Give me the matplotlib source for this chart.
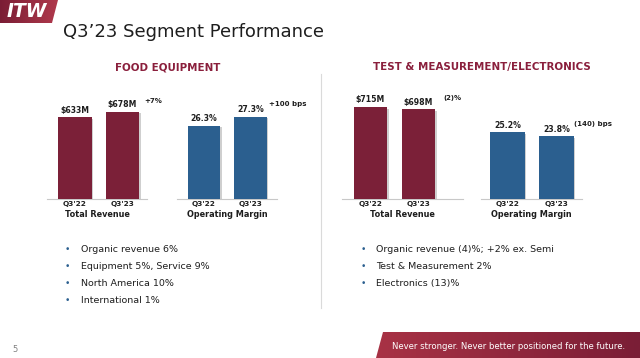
import numpy as np
import matplotlib
matplotlib.use("Agg")
import matplotlib.pyplot as plt
import matplotlib.patheffects as pe
from matplotlib.patches import Polygon

plt.rcParams['font.family'] = ['DejaVu Sans']

# ---------------------------------------------------------------------------
# DATA
# ---------------------------------------------------------------------------
quarters = ["Q3'22", "Q3'23"]
food_revenue = [633, 678]        # $M
food_margin = [26.3, 27.3]       # %
tm_revenue = [715, 698]          # $M
tm_margin = [25.2, 23.8]         # %
changes = ["+7%", "+100 bps", "(2)%", "(140) bps"]

food_bullets = ["Organic revenue 6%", "Equipment 5%, Service 9%",
                "North America 10%", "International 1%"]
tm_bullets = ["Organic revenue (4)%; +2% ex. Semi", "Test & Measurement 2%",
              "Electronics (13)%"]

MAROON = "#7B2038"
BLUE = "#2B5F8F"
TEXT = "#1e1e1e"

W, H = 640, 358
fig = plt.figure(figsize=(W / 100, H / 100), dpi=100)


def fx(x):
    return x / W


def fy(y):
    return 1 - y / H


# background layer in pixel coordinates (origin top-left)
bg = fig.add_axes([0, 0, 1, 1])
bg.axis("off")

# logo block, top-left
logo = Polygon([(0, 0), (58, 0), (52, 23), (0, 23)], closed=True,
               facecolor="none", edgecolor="none")
bg.add_patch(logo)
grad = np.linspace(0, 1, 256).reshape(1, -1)
im = bg.imshow(grad, extent=(0, 58, 23, 0), aspect="auto",
               cmap=matplotlib.colors.LinearSegmentedColormap.from_list(
                   "logo", ["#7a1d35", "#b0394c"]))
im.set_clip_path(logo)
fig.text(fx(7), fy(11.5), "ITW", color="white", fontsize=13.5,
         fontweight="bold", fontstyle="italic", va="center", ha="left")

# footer band
band = Polygon([(383, 332), (640, 332), (640, 358), (376, 358)], closed=True,
               facecolor="none", edgecolor="none")
bg.add_patch(band)
im2 = bg.imshow(grad, extent=(376, 640, 358, 332), aspect="auto",
                cmap=matplotlib.colors.LinearSegmentedColormap.from_list(
                    "band", ["#a83245", "#7a1e36"]))
im2.set_clip_path(band)
fig.text(fx(392), fy(346.5), "Never stronger. Never better positioned for the future.",
         color="white", fontsize=6.1, va="center", ha="left")
fig.text(fx(12), fy(350), "5", color="#808080", fontsize=6, va="center")

# divider
bg.plot([321, 321], [74, 308], color="#dadada", lw=0.8)
bg.set_xlim(0, W)
bg.set_ylim(H, 0)

# title and section headers
fig.text(fx(63), fy(37.3), "Q3\u201923 Segment Performance", color=TEXT,
         fontsize=13, va="baseline", ha="left")
fig.text(fx(168), fy(67), "FOOD EQUIPMENT", color="#8a1f3c", fontsize=7.4,
         fontweight="bold", ha="center", va="center")
fig.text(fx(482), fy(67), "TEST & MEASUREMENT/ELECTRONICS", color="#8a1f3c",
         fontsize=7.4, fontweight="bold", ha="center", va="center")

# ---------------------------------------------------------------------------
# BAR PANELS
# ---------------------------------------------------------------------------
panels = [
    # values, label format, colour, group label, px left/right, xlim, ylim
    (food_revenue, "${:.0f}M", MAROON, "Total Revenue", (47, 147), (-0.59, 1.52), (0, 937.5)),
    (food_margin, "{:.1f}%", BLUE, "Operating Margin", (177, 277), (-0.58, 1.57), (18.2, 31.53)),
    (tm_revenue, "${:.0f}M", MAROON, "Total Revenue", (342, 463), (-0.59, 1.93), (0, 937.5)),
    (tm_margin, "{:.1f}%", BLUE, "Operating Margin", (481, 582), (-0.54, 1.52), (0, 45.8)),
]
change_pos = [(144, 101), (269, 104), (443, 98), (574, 124)]

base_px, height_px = 198.5, 120
x = np.arange(len(quarters))
for (vals, fmt, col, group, (l, r), xlim, ylim), chg, (cx, cy) in zip(panels, changes, change_pos):
    ax = fig.add_axes([fx(l), fy(base_px), (r - l) / W, height_px / H])
    ax.patch.set_alpha(0)
    bars = ax.bar(x, vals, width=0.7, color=col, zorder=3)
    for b in bars:
        b.set_path_effects([pe.SimplePatchShadow(offset=(1.2, -1.2), shadow_rgbFace="#777777", alpha=0.35),
                            pe.Normal()])
    for xi, v in zip(x, vals):
        ax.annotate(fmt.format(v), (xi, v), xytext=(0, 1.8), textcoords="offset points",
                    ha="center", va="bottom", fontsize=5.6, fontweight="bold", color=TEXT)
    ax.set_xlim(*xlim)
    ax.set_ylim(*ylim)
    ax.set_xticks(x, quarters, fontsize=5.3, fontweight="bold", color=TEXT)
    ax.tick_params(axis="x", length=0, pad=1.8)
    ax.set_yticks([])
    for s in ("top", "right", "left"):
        ax.spines[s].set_visible(False)
    ax.spines["bottom"].set_color("#c8c8c8")
    ax.spines["bottom"].set_linewidth(0.8)
    ax.set_xlabel(group, fontsize=5.9, fontweight="bold", color=TEXT, labelpad=2.0)
    fig.text(fx(cx), fy(cy), chg, fontsize=5.0, fontweight="bold", color=TEXT,
             ha="left", va="center")

# ---------------------------------------------------------------------------
# BULLETS
# ---------------------------------------------------------------------------
for items, dot_x, txt_x in ((food_bullets, 67, 81), (tm_bullets, 363, 376)):
    for i, item in enumerate(items):
        yy = 250 + i * 16.8
        fig.text(fx(dot_x), fy(yy), "\u2022", color=BLUE, fontsize=6.5, ha="center", va="center")
        fig.text(fx(txt_x), fy(yy), item, color=TEXT, fontsize=6.8, ha="left", va="center")

fig.savefig("out.png", dpi=100)
